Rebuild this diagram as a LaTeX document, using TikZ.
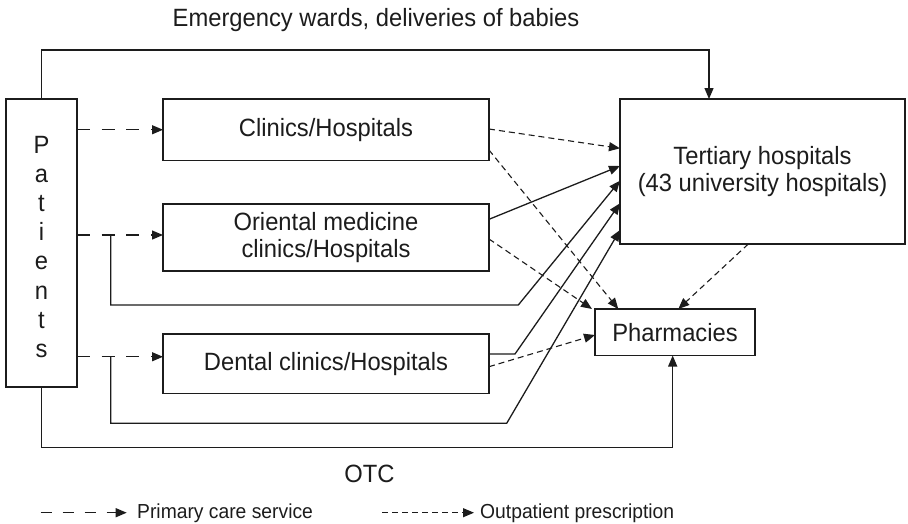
\documentclass[tikz,border=0pt]{standalone}
\usepackage{fontspec}
\setmainfont{Liberation Sans}[FakeStretch=0.95]
\usetikzlibrary{arrows.meta,calc}
\definecolor{ink}{HTML}{1C1C1C}
\begin{document}
\begin{tikzpicture}[x=1pt,y=-1pt,
  box/.style={draw=ink, line width=1.4pt, inner sep=0pt, outer sep=0pt,
    align=center, text=ink, font=\fontsize{25}{27.5}\selectfont},
  flow/.style={draw=ink, line width=1.3pt, -{Triangle[length=11pt,width=9pt]}},
  prim/.style={flow, dash pattern=on 13pt off 11.7pt},
  outp/.style={flow, line width=1.1pt, dash pattern=on 6pt off 4pt},
  lbl/.style={text=ink, inner sep=0pt, font=\fontsize{25}{27.5}\selectfont},
  key/.style={text=ink, inner sep=0pt, font=\fontsize{20.3}{24}\selectfont}]

\useasboundingbox (0,0) rectangle (908,523);

% boxes
\node[box, minimum width=71pt, minimum height=288pt,
      font=\fontsize{25}{29.2}\selectfont] (pat) at (41.5,243)
      {\rule{0pt}{24.9pt}P\\a\\t\\i\\e\\n\\t\\s};
\node[box, minimum width=326pt, minimum height=61.5pt] (clin) at (326,129.75) {Clinics/Hospitals};
\node[box, minimum width=326pt, minimum height=67pt] (orie) at (326,237.5) {Oriental medicine\\clinics/Hospitals};
\node[box, minimum width=326pt, minimum height=59.5pt] (dent) at (326,363.75) {Dental clinics/Hospitals};
\node[box, minimum width=285pt, minimum height=145pt] (tert) at (762.5,171.5) {Tertiary hospitals\\(43 university hospitals)};
\node[box, minimum width=160pt, minimum height=46.5pt] (phar) at (675,332.25) {Pharmacies};

% levels of the routed lines
\coordinate (emlvl) at (0,50);
\coordinate (orlvl) at (0,305);
\coordinate (dnlvl) at (0,423.3);
\coordinate (otclvl) at (0,447.3);
\coordinate (brx) at (110.7,0);

% emergency route
\draw[flow] (pat.north) -- (pat.north |- emlvl) -| ($(tert.north west)+(89,0)$);

% primary care service
\coordinate (oin) at ($(orie.west)+(0,-2.5)$);
\coordinate (din) at ($(dent.west)+(0,-7)$);
\draw[prim] (pat.east |- clin.west) -- (clin.west);
\draw[prim] (pat.east |- oin) -- (oin);
\draw[prim] (pat.east |- din) -- (din);

% referrals to tertiary hospitals
\draw[flow] (brx |- oin) |- ($(orlvl)+(518.3,0)$) -- ($(tert.north west)+(0,81.7)$);
\draw[flow] (brx |- din) |- ($(dnlvl)+(506.7,0)$) -- ($(tert.north west)+(0,131)$);
\draw[flow] ($(orie.north east)+(0,15.3)$) -- ($(tert.north west)+(0,67)$);
\draw[flow] ($(dent.north east)+(0,20)$) -- ++(26,0) -- ($(tert.north west)+(0,104.3)$);

% over the counter
\coordinate (otcin) at ($(phar.south)+(-2.3,0)$);
\draw[flow] (pat.south) |- (otclvl -| otcin) -- (otcin);

% outpatient prescriptions
\draw[outp] ($(clin.north east)+(0,30)$) -- ($(tert.north west)+(0,49.3)$);
\draw[outp] ($(clin.north east)+(0,51)$) -- ($(phar.north west)+(23.3,0)$);
\draw[outp] ($(orie.north east)+(0,35)$) -- ($(phar.north west)+(-3,0)$);
\draw[outp] ($(dent.north east)+(0,32.7)$) -- ($(phar.north west)+(0,26)$);
\draw[outp] ($(tert.south west)+(128.3,0)$) -- ($(phar.north west)+(83.3,0)$);

% labels
\node[lbl, anchor=base] (emlbl) at (376,26) {Emergency wards, deliveries of babies};
\node[lbl, anchor=base] (otclbl) at (369.5,482) {OTC};

% key
\coordinate (k1a) at (40.7,512.7);
\coordinate (k1b) at (126.7,512.7);
\draw[prim, dash pattern=on 11pt off 11pt] (k1a) -- (k1b);
\node[key, anchor=base west] (k1) at (137,518.3) {Primary care service};
\coordinate (k2a) at (382,512.7);
\coordinate (k2b) at (474,512.7);
\draw[outp] (k2a) -- (k2b);
\node[key, anchor=base west] (k2) at (480,518.3) {Outpatient prescription};
\end{tikzpicture}
\end{document}
